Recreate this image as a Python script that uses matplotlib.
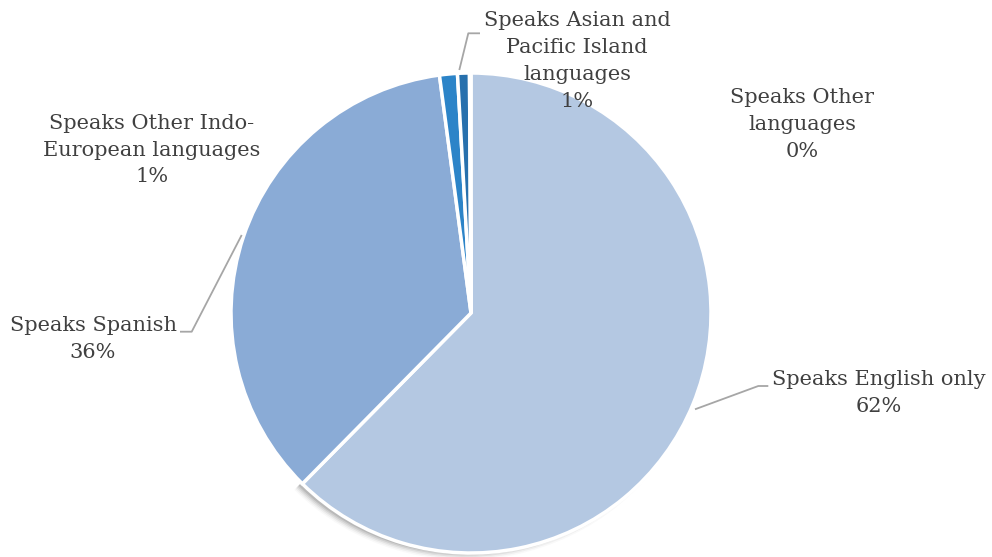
import matplotlib
matplotlib.use("Agg")
import matplotlib.pyplot as plt
from matplotlib.patches import Wedge

# Language spoken at home (share of population, %)
categories = [
    "Speaks English only",
    "Speaks Spanish",
    "Speaks Other Indo-\nEuropean languages",
    "Speaks Asian and\nPacific Island\nlanguages",
    "Speaks Other\nlanguages",
]
shares = [62.4, 35.5, 1.2, 0.8, 0.1]
colors = ["#B4C8E2", "#8AABD6", "#2C84C8", "#2770AD", "#A9C1E1"]

W, H = 992, 557
fig = plt.figure(figsize=(W / 100, H / 100), dpi=100)
ax = fig.add_axes([0, 0, 1, 1])

def Y(y):
    # convert top-down pixel rows to axis units
    return H - y

cx, cy, r = 471, 313, 240

# soft drop shadow behind the first slice
start = 90
end = 90 - shares[0] / sum(shares) * 360
for dr, a in [(3, 0.025), (1.5, 0.04), (0, 0.06), (-1.5, 0.08), (-3, 0.10)]:
    ax.add_patch(Wedge((cx - 6, Y(cy) - 4), r + dr, end, start,
                       facecolor="black", edgecolor="none", alpha=a, zorder=1))

wedges, _ = ax.pie(shares, colors=colors, startangle=90, counterclock=False,
                   center=(cx, Y(cy)), radius=r,
                   wedgeprops=dict(edgecolor="white", linewidth=2.5))
for w in wedges:
    w.set_zorder(2)

# leader lines
line_kw = dict(color="#A6A6A6", lw=1.3, zorder=3, solid_capstyle="butt")
ax.plot([459.3, 468.3, 480], [Y(70), Y(33.3), Y(33.3)], **line_kw)
ax.plot([241.7, 191.7, 180], [Y(235), Y(331.7), Y(331.7)], **line_kw)
ax.plot([695, 758.3, 768.3], [Y(409.3), Y(386), Y(386)], **line_kw)

# data labels
label_pos = [(879, 393), (93, 339), (152, 150), (577, 61), (802, 124.5)]
for name, val, (lx, ly) in zip(categories, shares, label_pos):
    ax.text(lx, Y(ly), f"{name}\n{val:.0f}%", ha="center", va="center",
            fontsize=15, family="DejaVu Serif", color="#404040",
            linespacing=1.52, zorder=4)

ax.set_xlim(0, W)
ax.set_ylim(0, H)
ax.set_aspect("equal")
ax.axis("off")
fig.savefig("out.png", dpi=100, facecolor="white")
